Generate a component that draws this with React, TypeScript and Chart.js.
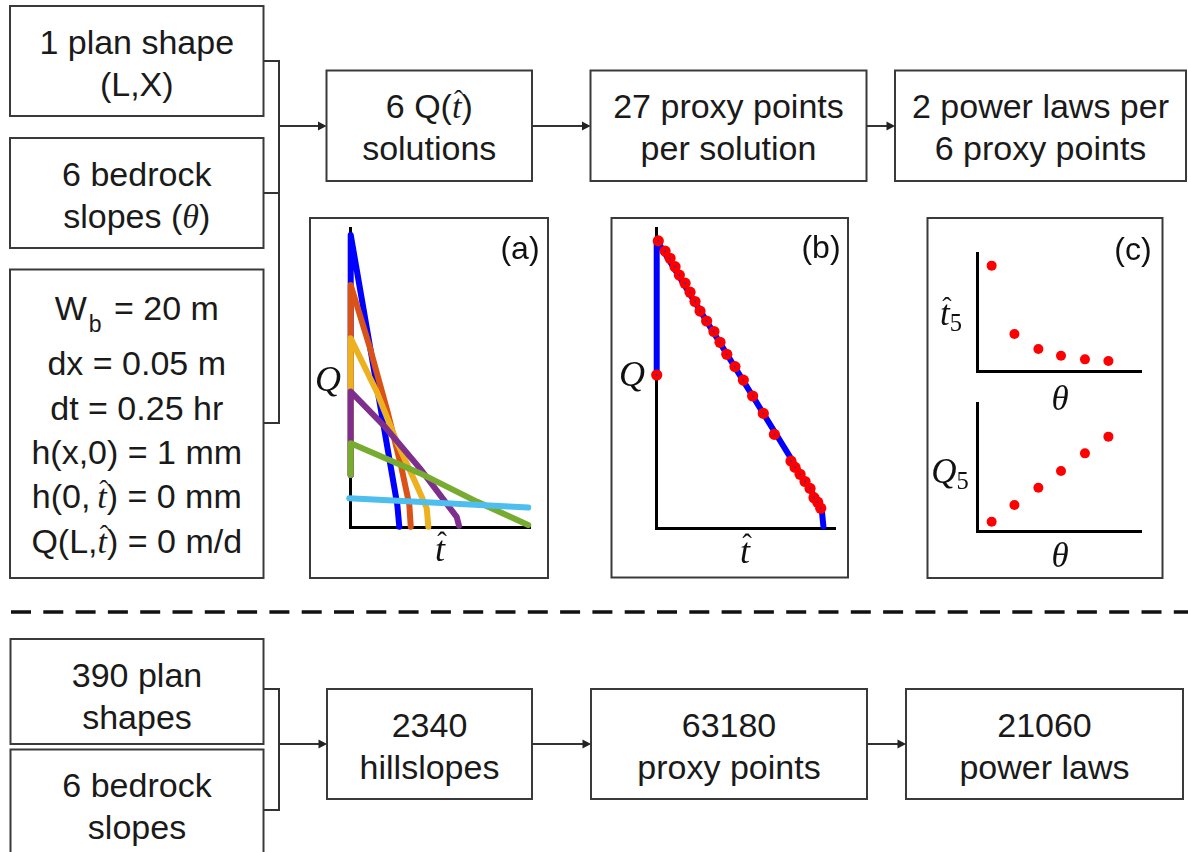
import React, { useEffect, useRef } from 'react';
import { Chart, registerables } from 'chart.js';

Chart.register(...registerables);

// ---------- Panel (a): six Q(t̂) solutions (t̂ and Q in % of axis length) ----------
const aBlueT = [0, 0, 26.0, 27.1];
const aBlueQ = [17.4, 97.7, 7.4, 0.1];
const aOrangeT = [0, 0, 10.8, 21.0, 28.4, 32.7, 33.5];
const aOrangeQ = [17.4, 80.9, 59.8, 37.5, 19.6, 7.4, 0.1];
const aYellowT = [0, 0, 14.5, 25.7, 36.8, 42.4, 43.3];
const aYellowQ = [17.4, 63.1, 45.3, 28.5, 14.0, 6.3, 0.1];
const aPurpleT = [0, 0, 18.2, 38.6, 59.1, 60.4];
const aPurpleQ = [17.4, 45.3, 34.1, 19.6, 3.4, 0.4];
const aGreenT = [0, 0, 38.6, 70.3, 99.0];
const aGreenQ = [17.4, 28.0, 18.0, 8.5, 0.7];
const aCyanT = [-0.8, 99.0];
const aCyanQ = [9.6, 6.5];

// ---------- Panel (b): one solution and its 27 proxy points ----------
const bLineT = [0, 0, 92.5, 93.5];
const bLineQ = [51.1, 96.1, 6.7, 0.6];
const bProxyT = [0.9, 4.7, 7.5, 10.3, 12.7, 15.9, 18.7, 21.5, 24.3, 28.0, 32.1, 35.5, 39.3, 43.9,
  48.6, 53.8, 59.8, 66.0, 75.3, 77.6, 80.4, 83.2, 86.0, 88.2, 90.3, 92.0, 0];
const bProxyQ = [95.8, 92.4, 90.0, 87.2, 84.4, 81.7, 78.7, 75.6, 72.4, 69.1, 65.6, 62.0, 58.0, 53.9,
  49.4, 44.1, 38.3, 31.3, 22.4, 20.3, 18.0, 15.6, 13.3, 10.2, 8.7, 6.7, 51.1];

// ---------- Panel (c): proxy point vs bedrock slope ----------
const cTheta = [8.5, 22.4, 37.0, 50.8, 65.4, 79.7];
const cT5 = [89.5, 31.4, 18.7, 13.0, 9.9, 8.5];
const cQ5 = [7.3, 20.4, 33.9, 47.0, 60.8, 73.9];

const SANS = '"Liberation Sans", Arial, sans-serif';
const SERIF = '"Liberation Serif", "Times New Roman", serif';

const pts = (xs: number[], ys: number[]) => xs.map((x, i) => ({ x, y: ys[i] }));

const axisScale = () => ({
  type: 'linear' as const,
  min: 0,
  max: 100,
  ticks: { display: false },
  grid: { display: false, drawTicks: false },
  border: { display: true, color: '#000', width: 3 },
});

const baseOptions = (padding: any) => ({
  responsive: false,
  animation: false as const,
  events: [] as any[],
  devicePixelRatio: 1,
  layout: { padding },
  plugins: { legend: { display: false }, tooltip: { enabled: false }, title: { display: false } },
  scales: { x: axisScale(), y: axisScale() },
});

const lineDs = (xs: number[], ys: number[], color: string, order: number) => ({
  data: pts(xs, ys),
  borderColor: color,
  backgroundColor: color,
  borderWidth: 6,
  pointRadius: 0,
  tension: 0,
  fill: false,
  showLine: true,
  borderJoinStyle: 'round' as const,
  borderCapStyle: 'round' as const,
  clip: false as const,
  order,
});

const dotDs = (xs: number[], ys: number[], color: string, r: number, order: number) => ({
  data: pts(xs, ys),
  showLine: false,
  pointRadius: r,
  pointBackgroundColor: color,
  pointBorderWidth: 0,
  borderColor: color,
  clip: false as const,
  order,
});

function Hat({ ch = 't' }: { ch?: string }) {
  return (
    <span style={{ position: 'relative', display: 'inline-block', lineHeight: 1, fontFamily: SERIF, fontStyle: 'italic' }}>
      {ch}
      <span style={{ position: 'absolute', left: '0.08em', right: 0, top: '-0.1em', textAlign: 'center', fontStyle: 'normal', fontSize: '0.8em', lineHeight: 1 }}>ˆ</span>
    </span>
  );
}

const M = ({ children }: { children: any }) => (
  <span style={{ fontFamily: SERIF, fontStyle: 'italic' }}>{children}</span>
);

function TL({ x, w, b, children }: { x: number; w: number; b: number; children: any }) {
  return (
    <div style={{ position: 'absolute', left: x, width: w, top: b - 32.8, height: 42, lineHeight: '42px', fontSize: 34, textAlign: 'center', fontFamily: SANS, color: '#1a1a1a', whiteSpace: 'nowrap' }}>
      {children}
    </div>
  );
}

function Lbl({ cx, cy, size, serif, children }: { cx: number; cy: number; size: number; serif?: boolean; children: any }) {
  return (
    <div style={{ position: 'absolute', left: cx, top: cy, transform: 'translate(-50%,-50%)', fontSize: size, lineHeight: 1, whiteSpace: 'nowrap', color: '#111', fontFamily: serif ? SERIF : SANS, fontStyle: serif ? 'italic' : 'normal' }}>
      {children}
    </div>
  );
}

const Sub = ({ children }: { children: any }) => (
  <span style={{ fontStyle: 'normal', fontSize: '0.7em', position: 'relative', top: '0.25em' }}>{children}</span>
);

export default function App() {
  const aRef = useRef<HTMLCanvasElement>(null);
  const bRef = useRef<HTMLCanvasElement>(null);
  const c1Ref = useRef<HTMLCanvasElement>(null);
  const c2Ref = useRef<HTMLCanvasElement>(null);

  useEffect(() => {
    const charts: Chart[] = [];
    charts.push(new Chart(aRef.current!, {
      type: 'line',
      data: {
        datasets: [
          lineDs(aBlueT, aBlueQ, '#0000ff', 5),
          lineDs(aOrangeT, aOrangeQ, '#d95319', 4),
          lineDs(aYellowT, aYellowQ, '#edb120', 3),
          lineDs(aPurpleT, aPurpleQ, '#7e2f8e', 2),
          lineDs(aGreenT, aGreenQ, '#77ac30', 1),
          lineDs(aCyanT, aCyanQ, '#4dbeee', 0),
        ] as any,
      },
      options: baseOptions({ left: 20.7, top: 18, right: 20, bottom: 23 }) as any,
    }));
    charts.push(new Chart(bRef.current!, {
      type: 'line',
      data: {
        datasets: [
          lineDs(bLineT, bLineQ, '#0000ff', 2),
          dotDs(bProxyT, bProxyQ, '#ff0000', 5.6, 1),
          dotDs(bProxyT, bProxyQ, '#3030c0', 0.9, 0),
        ] as any,
      },
      options: baseOptions({ left: 20.7, top: 20.3, right: 21, bottom: 19.7 }) as any,
    }));
    charts.push(new Chart(c1Ref.current!, {
      type: 'line',
      data: { datasets: [dotDs(cTheta, cT5, '#ff0000', 5, 0)] as any },
      options: baseOptions({ left: 20.7, top: 18.3, right: 20.3, bottom: 14 }) as any,
    }));
    charts.push(new Chart(c2Ref.current!, {
      type: 'line',
      data: { datasets: [dotDs(cTheta, cQ5, '#ff0000', 5, 0)] as any },
      options: baseOptions({ left: 20.7, top: 18.3, right: 20.3, bottom: 19 }) as any,
    }));
    return () => charts.forEach((c) => c.destroy());
  }, []);

  const boxes: [number, number, number, number][] = [
    [10, 6, 263.5, 116],
    [10, 138, 263.5, 248],
    [10, 269.5, 263.5, 578],
    [326.5, 70.5, 532, 181],
    [590.5, 70.5, 866.5, 181],
    [895, 70.5, 1186, 181],
    [310, 218, 548, 578],
    [611.5, 218, 848, 577.5],
    [927.5, 218, 1162.5, 578],
    [10.5, 639, 263.5, 744],
    [10.5, 749.5, 263.5, 860],
    [327, 689, 532, 799],
    [591, 689, 867, 799],
    [906, 689, 1183, 799],
  ];
  const arrows: [number, number, number][] = [
    [279, 326.5, 126],
    [532, 590.5, 126],
    [866.5, 895, 126],
    [279, 327, 744],
    [532, 591, 744],
    [867, 906, 744],
  ];

  return (
    <div style={{ position: 'fixed', left: 0, top: 0, width: 1188, height: 852, overflow: 'hidden', background: '#fff' }}>
      <svg width={1188} height={852} style={{ position: 'absolute', left: 0, top: 0 }}>
        {boxes.map((b, i) => (
          <rect key={i} x={b[0]} y={b[1]} width={b[2] - b[0]} height={b[3] - b[1]} fill="none" stroke="#3a3a3a" strokeWidth={2} />
        ))}
        <path d="M263.5 61 H279 V423 H263.5 M263.5 193 H279" stroke="#333" strokeWidth={2} fill="none" />
        <path d="M263.5 689 H279 V810 H263.5" stroke="#333" strokeWidth={2} fill="none" />
        {arrows.map((a, i) => (
          <g key={i}>
            <line x1={a[0]} y1={a[2]} x2={a[1] - 6} y2={a[2]} stroke="#333" strokeWidth={2} />
            <polygon points={`${a[1]},${a[2]} ${a[1] - 8.5},${a[2] - 4.5} ${a[1] - 8.5},${a[2] + 4.5}`} fill="#222" />
          </g>
        ))}
        <line x1={11} y1={612} x2={1188} y2={612} stroke="#111" strokeWidth={3.5} strokeDasharray="20 12.3" />
      </svg>

      <canvas ref={aRef} width={220} height={340} style={{ position: 'absolute', left: 330, top: 210 }} />
      <canvas ref={bRef} width={220} height={340} style={{ position: 'absolute', left: 636, top: 208 }} />
      <canvas ref={c1Ref} width={205} height={150} style={{ position: 'absolute', left: 957, top: 235 }} />
      <canvas ref={c2Ref} width={205} height={165} style={{ position: 'absolute', left: 957, top: 385 }} />

      {/* top-left inputs */}
      <TL x={10} w={253.5} b={53.5}>1 plan shape</TL>
      <TL x={10} w={253.5} b={95.5}>(L,X)</TL>
      <TL x={10} w={253.5} b={185.5}>6 bedrock</TL>
      <TL x={10} w={253.5} b={227.5}>slopes (<M>θ</M>)</TL>
      <TL x={10} w={253.5} b={319.3}>
        W<span style={{ fontSize: 23, position: 'relative', top: 12, margin: '0 3px 0 2px' }}>b</span> = 20 m
      </TL>
      <TL x={10} w={253.5} b={375}>dx = 0.05 m</TL>
      <TL x={10} w={253.5} b={420}>dt = 0.25 hr</TL>
      <TL x={10} w={253.5} b={464}>h(x,0) = 1 mm</TL>
      <TL x={10} w={253.5} b={508}>h(0,{'\u2009'}<Hat />) = 0 mm</TL>
      <TL x={10} w={253.5} b={553}>Q(L,<Hat />) = 0 m/d</TL>

      {/* top pipeline */}
      <TL x={326.5} w={205.5} b={118}>6 Q(<Hat />)</TL>
      <TL x={326.5} w={205.5} b={160}>solutions</TL>
      <TL x={590.5} w={276} b={118}>27 proxy points</TL>
      <TL x={590.5} w={276} b={160}>per solution</TL>
      <TL x={895} w={291} b={118}>2 power laws per</TL>
      <TL x={895} w={291} b={160}>6 proxy points</TL>

      {/* panel labels */}
      <Lbl cx={520} cy={248} size={32}>(a)</Lbl>
      <Lbl cx={328} cy={379} size={36} serif>Q</Lbl>
      <Lbl cx={440} cy={549} size={36} serif><Hat /></Lbl>
      <Lbl cx={821} cy={247} size={32}>(b)</Lbl>
      <Lbl cx={632} cy={374} size={36} serif>Q</Lbl>
      <Lbl cx={745} cy={551} size={36} serif><Hat /></Lbl>
      <Lbl cx={1133} cy={249} size={32}>(c)</Lbl>
      <Lbl cx={951} cy={313} size={35} serif><Hat /><Sub>5</Sub></Lbl>
      <Lbl cx={1060} cy={398} size={35} serif>θ</Lbl>
      <Lbl cx={950} cy={471} size={35} serif>Q<Sub>5</Sub></Lbl>
      <Lbl cx={1060} cy={555} size={35} serif>θ</Lbl>

      {/* bottom pipeline */}
      <TL x={10.5} w={253} b={686.5}>390 plan</TL>
      <TL x={10.5} w={253} b={728.5}>shapes</TL>
      <TL x={10.5} w={253} b={797}>6 bedrock</TL>
      <TL x={10.5} w={253} b={839}>slopes</TL>
      <TL x={327} w={205} b={736.5}>2340</TL>
      <TL x={327} w={205} b={778.5}>hillslopes</TL>
      <TL x={591} w={276} b={736.5}>63180</TL>
      <TL x={591} w={276} b={778.5}>proxy points</TL>
      <TL x={906} w={277} b={736.5}>21060</TL>
      <TL x={906} w={277} b={778.5}>power laws</TL>
    </div>
  );
}
